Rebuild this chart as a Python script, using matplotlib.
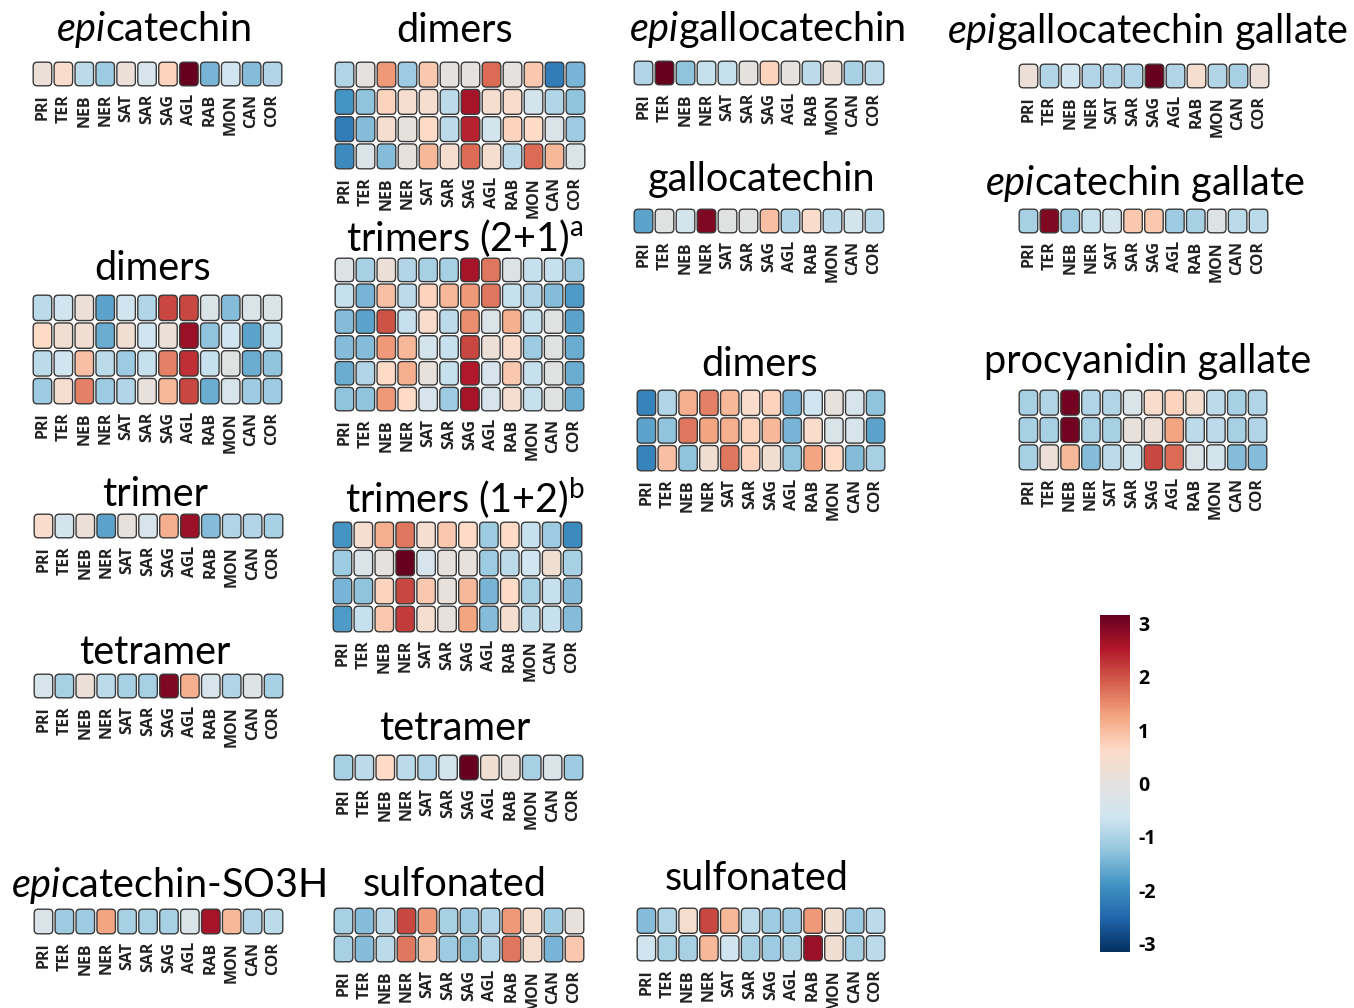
import matplotlib
matplotlib.use('Agg')
import matplotlib.pyplot as plt
from matplotlib.patches import FancyBboxPatch
from matplotlib.colors import LinearSegmentedColormap, Normalize
import matplotlib.cm as cm

plt.rcParams['font.family'] = ['Lato', 'DejaVu Sans']
plt.rcParams['mathtext.fontset'] = 'custom'
plt.rcParams['mathtext.rm'] = 'Lato'
plt.rcParams['mathtext.it'] = 'Lato:italic'
plt.rcParams['axes.unicode_minus'] = False

cols = ['PRI', 'TER', 'NEB', 'NER', 'SAT', 'SAR', 'SAG', 'AGL', 'RAB', 'MON', 'CAN', 'COR']

##--DATA (z-scores)
epicatechin = [[0.2, 0.5, -0.8, -1.1, 0.2, -0.4, 0.7, 3.0, -1.4, -0.6, -1.3, -0.9]]
dimers_a = [[-0.8, -0.6, 0.2, -1.6, -0.6, -0.9, 2.0, 2.0, -0.3, -1.3, -0.3, -0.3],
            [0.6, 0.3, 0.3, -1.5, 0.3, -0.6, 0.2, 2.6, -1.2, -0.6, -1.6, -0.7],
            [-0.8, -0.6, 0.9, -0.8, -1.1, -0.7, 1.5, 2.2, -0.7, -0.1, -1.5, -1.2],
            [-1.1, 0.4, 1.5, -1.1, -0.9, 0.1, 1.0, 2.0, -1.5, -0.4, -1.1, -1.1]]
trimer = [[0.5, -0.5, 0.2, -1.6, 0.1, -0.4, 1.1, 2.6, -1.3, -0.9, -0.9, -1.0]]
tetramer_a = [[-0.4, -1.0, 0.2, -0.8, -1.0, -1.0, 2.8, 1.1, -0.4, -0.9, -0.2, -1.0]]
epicatechin_so3h = [[-0.3, -1.1, -1.1, 1.2, -1.0, -1.0, -1.0, -0.3, 2.5, 1.0, -0.9, -0.8]]

dimers_b = [[-0.9, 0.0, 1.3, -1.1, 0.8, 0.0, 0.0, 1.7, 0.0, 0.8, -2.1, -1.4],
            [-1.8, -1.2, 0.7, 0.4, 0.4, -0.8, 2.5, 0.4, 0.5, -0.5, -0.9, -1.2],
            [-2.1, -1.3, 0.4, 0.0, 0.6, -0.8, 2.3, -0.5, 0.7, 0.6, -0.3, -1.1],
            [-1.9, -0.3, -1.3, 0.1, 1.0, 0.4, 1.7, 0.4, -0.8, 1.7, 1.0, -0.3]]
trimers_21 = [[-0.2, -1.0, 0.2, -0.9, -1.0, -1.0, 2.5, 1.6, -0.2, -0.7, -0.7, -1.1],
              [-0.7, -1.4, 0.9, -0.8, 0.7, 1.0, 1.3, 1.6, -0.7, -0.9, -1.3, -1.7],
              [-1.3, -1.6, 1.9, -0.7, 0.5, -0.8, 1.4, -0.3, 1.1, -0.7, -0.1, -1.6],
              [-1.3, -1.3, 1.3, 1.0, -0.5, -0.7, 2.0, 0.2, 0.5, -1.1, -0.1, -1.5],
              [-1.5, -0.9, 0.6, 1.1, 0.1, -0.7, 2.4, -0.4, 0.8, -0.7, -0.1, -1.5],
              [-1.2, -1.2, 1.3, 0.6, -0.4, -1.1, 2.5, -0.4, 0.4, -0.7, -0.1, -1.5]]
trimers_12 = [[-1.8, 0.4, 1.1, 1.6, 0.4, 0.8, 0.6, -1.1, 0.6, -0.7, -1.1, -1.9],
              [-1.1, -0.3, 0.0, 3.0, -0.4, 0.1, 0.1, -1.1, -0.8, -0.6, 0.3, -1.0],
              [-1.4, -1.2, 0.7, 2.0, 0.8, 0.1, 1.0, -1.4, 0.6, -1.0, -0.7, -1.3],
              [-1.7, -0.7, 0.8, 2.1, 0.4, 0.1, 1.2, -1.3, 0.4, -0.8, -0.7, -1.3]]
tetramer_b = [[-1.0, -0.8, 0.6, -0.8, -0.9, -0.5, 3.0, 0.3, 0.1, -1.0, -0.3, -1.1]]
sulfonated_b = [[-1.0, -1.3, -0.8, 2.0, 1.3, -1.0, -1.1, -0.9, 1.3, 0.4, -1.1, 0.1],
                [-1.0, -1.3, -0.8, 1.6, 0.9, -1.1, -1.2, -0.9, 1.6, 0.4, -1.4, 0.8]]

epigallocatechin = [[-0.9, 3.0, -1.2, -0.7, -0.7, 0.0, 0.7, 0.0, -0.8, 0.2, -1.0, -0.8]]
gallocatechin = [[-1.6, -0.1, -0.5, 2.8, -0.1, -0.1, 0.9, -0.9, 0.5, -0.8, -0.5, -0.8]]
dimers_c = [[-2.0, -0.9, 1.1, 1.5, 1.0, 0.5, 0.7, -1.4, -0.6, 0.1, -0.4, -1.2],
            [-1.6, -1.2, 1.6, 1.2, 1.1, 0.7, 1.0, -1.4, 0.5, -0.3, -0.4, -1.6],
            [-2.0, 0.9, -1.2, 0.3, 1.6, 0.7, 0.3, -1.2, 1.2, 0.6, -1.3, -1.0]]
sulfonated_c = [[-1.3, -0.9, 0.4, 2.0, 1.0, -0.8, -1.1, -1.1, 1.3, 0.3, -1.1, -0.8],
                [-0.6, -1.0, -1.0, 1.0, -0.6, -1.0, -1.1, -1.0, 2.6, 0.3, -1.0, -0.8]]

egc_gallate = [[0.2, -0.9, -0.6, -0.9, -0.9, -0.9, 3.0, -0.9, 0.4, -0.9, -1.0, 0.2]]
ec_gallate = [[-1.0, 2.8, -1.1, -0.7, -0.5, 0.8, 0.8, -1.1, -1.0, -0.2, -0.8, -0.8]]
procyanidin_gallate = [[-1.0, -0.9, 2.9, -0.9, -0.9, -0.3, 0.5, 0.7, 0.4, -0.8, -1.0, -0.9],
                       [-1.0, -1.0, 2.9, -1.0, -1.0, 0.1, 0.2, 1.2, -0.8, -0.8, -1.0, -0.9],
                       [-1.0, 0.2, 1.0, -1.3, -0.8, -0.5, 2.0, 1.7, -0.3, -0.5, -1.3, -1.3]]

cbar_ticks = [-3, -2, -1, 0, 1, 2, 3]

# RdBu_r-like with greyish middle
cmap = LinearSegmentedColormap.from_list('rdbu_grey', [
    '#053061', '#2166ac', '#4393c3', '#92c5de', '#d1e5f0', '#e3e1df',
    '#fddbc7', '#f4a582', '#d6604d', '#b2182b', '#67001f'])
norm = Normalize(-3, 3)

W, H = 1354, 1008
fig = plt.figure(figsize=(W/100, H/100), dpi=100)


def panel(x0, y0, x1, y1, data, title, tx, ty):
    n = len(data)
    ax = fig.add_axes([x0/W, 1-y1/H, (x1-x0)/W, (y1-y0)/H])
    cw = (x1-x0)/12
    rh = (y1-y0)/n
    ax.set_xlim(0, x1-x0)
    ax.set_ylim(y1-y0, 0)
    for i, row in enumerate(data):
        for j, v in enumerate(row):
            p = FancyBboxPatch((j*cw+1.2, i*rh+1.2), cw-2.4, rh-2.4,
                               boxstyle='round,pad=0,rounding_size=4',
                               fc=cmap(norm(v)), ec='#3a3a3a', lw=1.0)
            ax.add_patch(p)
    ax.set_xticks([(j+0.5)*cw for j in range(12)])
    ax.set_xticklabels(cols, rotation=90, fontweight='bold', fontsize=11.5,
                       family='Open Sans', color='#222222')
    ax.tick_params(length=0, pad=5)
    ax.set_yticks([])
    for s in ax.spines.values():
        s.set_visible(False)
    fig.text(tx/W, 1-ty/H, title, ha='center', va='center', fontsize=28.5)
    return ax


panel(32, 61, 283, 87, epicatechin, r'$\mathit{epi}$catechin', 153, 30)
panel(32, 294, 283, 405, dimers_a, 'dimers', 153, 268)
panel(33, 513, 284, 539, trimer, 'trimer', 155, 494)
panel(33, 673, 284, 699, tetramer_a, 'tetramer', 155, 652)
panel(33, 908, 284, 935, epicatechin_so3h, r'$\mathit{epi}$catechin-SO3H', 168, 886)

panel(334, 61, 586, 170, dimers_b, 'dimers', 455, 30)
panel(334, 257, 585, 412, trimers_21, r'trimers (2+1)$^{\mathrm{a}}$', 465, 238)
panel(332, 521, 583, 633, trimers_12, r'trimers (1+2)$^{\mathrm{b}}$', 465, 498)
panel(333, 754, 584, 781, tetramer_b, 'tetramer', 455, 728)
panel(333, 907, 585, 963, sulfonated_b, 'sulfonated', 455, 884)

panel(633, 60, 885, 86, epigallocatechin, r'$\mathit{epi}$gallocatechin', 767, 30)
panel(633, 208, 885, 234, gallocatechin, 'gallocatechin', 762, 180)
panel(636, 389, 886, 472, dimers_c, 'dimers', 760, 365)
panel(636, 907, 886, 962, sulfonated_c, 'sulfonated', 757, 878)

panel(1018, 63, 1270, 89, egc_gallate, r'$\mathit{epi}$gallocatechin gallate', 1148, 32)
panel(1018, 208, 1269, 234, ec_gallate, r'$\mathit{epi}$catechin gallate', 1145, 183)
panel(1018, 389, 1268, 471, procyanidin_gallate, 'procyanidin gallate', 1148, 362)

cax = fig.add_axes([1100/W, 1-952/H, 30/W, (952-615)/H])
cb = fig.colorbar(cm.ScalarMappable(norm=Normalize(-3.15, 3.15), cmap=cmap),
                  cax=cax, ticks=cbar_ticks)
cb.outline.set_visible(False)
cb.ax.tick_params(length=0, labelsize=14, pad=6)
for t in cb.ax.get_yticklabels():
    t.set_fontweight('bold')
    t.set_family('Open Sans')

fig.savefig('out.png', dpi=100)
